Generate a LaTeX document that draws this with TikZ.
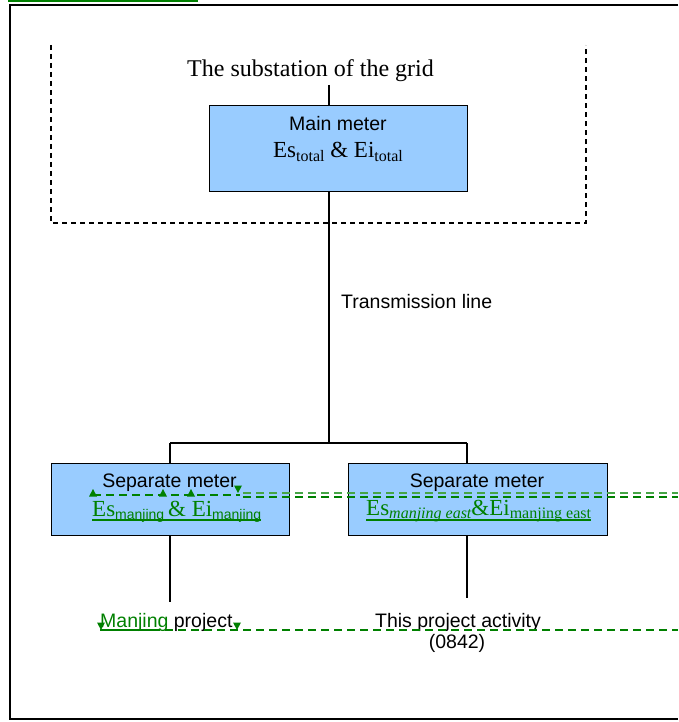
\documentclass[tikz,border=0pt]{standalone}
\usepackage{fontspec}
\setmainfont{Liberation Serif}
\setsansfont{Liberation Sans}
\definecolor{meterblue}{RGB}{153,204,255}
\definecolor{revgreen}{RGB}{0,128,0}
\definecolor{revlight}{RGB}{70,165,70}
\newcommand\bigser{\fontsize{23}{26}\selectfont\rmfamily}
\newcommand\lowsub[1]{\raisebox{-3pt}{#1}}
\newcommand\upmark[1]{\fill[revgreen] (#1) ++(0,-4) -- ++(4,7.5) -- ++(-8,0) -- cycle;}
\newcommand\downmark[1]{\fill[revgreen] (#1) ++(0,4) -- ++(4,-7.5) -- ++(-8,0) -- cycle;}
\begin{document}
\begin{tikzpicture}[x=1pt,y=-1pt,
  meter/.style={draw=black,line width=1.4pt,fill=meterblue,inner sep=0pt,anchor=north west},
  wire/.style={line width=1.2pt,black},
  sanslbl/.style={font=\fontsize{19.5}{22}\sffamily,inner sep=0pt,anchor=base},
  serlbl/.style={font=\bigser,inner sep=0pt,anchor=base},
  revline/.style={revgreen,line width=1.3pt,dash pattern=on 8pt off 5pt},
  revlineb/.style={revlight,line width=1.3pt,dash pattern=on 8pt off 5pt},
  uline/.style={revgreen,line width=1.2pt}]
\useasboundingbox (0,0) rectangle (678,722);
% outer frame and top revision bar
\draw[line width=2pt,black] (678,5.5) -- (9.5,5.5) -- (9.5,718.5) -- (678,718.5);
\draw[revgreen,line width=2pt] (8,1) -- (198,1);
% substation area
\draw[line width=1.3pt,dash pattern=on 5pt off 4pt] (51,45) -- (51,223) -- (586,223) -- (586,45);
\node[serlbl,font=\fontsize{24}{27}\selectfont\rmfamily] (title) at (310.5,77) {The substation of the grid};
% boxes
\node[meter,minimum width=258pt,minimum height=86pt] (main) at (209,105) {};
\node[meter,minimum width=238pt,minimum height=72pt] (lbox) at (51,463) {};
\node[meter,minimum width=259pt,minimum height=72pt] (rbox) at (348,463) {};
% box texts
\node[sanslbl] (mainlbl) at (338,131) {Main meter};
\node[serlbl] (mainval) at (338,158) {Es\lowsub{\fontsize{16}{18}\selectfont total} \& Ei\lowsub{\fontsize{16}{18}\selectfont total}};
\node[sanslbl] (llbl) at (169.5,487) {Separate meter};
\node[serlbl,anchor=base west,text=revgreen] (lval) at (92,516) {Es\lowsub{\fontsize{14}{16}\sffamily manjing }\& Ei\lowsub{\fontsize{14}{16}\sffamily manjing}};
\node[sanslbl] (rlbl) at (477,487) {Separate meter};
\node[serlbl,anchor=base west,text=revgreen] (rval) at (366,515) {Es\lowsub{\fontsize{16}{18}\itshape manjing east}\&Ei\lowsub{\fontsize{16}{18}\selectfont manjing east}};
\draw[uline] ([yshift=-4pt]lval.base west) -- ([yshift=-4pt]lval.base east);
\draw[uline] ([yshift=-5pt]rval.base west) -- ([yshift=-5pt]rval.base east);
% connectors
\coordinate (tstart) at (329,85);
\coordinate (junc) at (329,443);
\coordinate (jl) at (170,443);
\coordinate (jr) at (467,443);
\coordinate (lend) at (170,602);
\coordinate (rend) at (467,598);
\draw[wire] (tstart) -- (tstart |- main.north);
\draw[wire] (tstart |- main.south) -- (junc);
\draw[wire] (jl) -- (jr);
\draw[wire] (jl) -- (jl |- lbox.north);
\draw[wire] (jr) -- (jr |- rbox.north);
\draw[wire] (lbox.south -| lend) -- (lend);
\draw[wire] (rbox.south -| rend) -- (rend);
\node[sanslbl,anchor=base west] (trans) at (341,308) {Transmission line};
% bottom labels
\node[sanslbl,anchor=base west] (lproj) at (100,627) {\textcolor{revgreen}{Manjing} project};
\node[sanslbl] (rproj) at (458,627) {This project activity};
\node[sanslbl] (rcode) at (457,648) {(0842)};
\draw[uline] ([yshift=-3pt]lproj.base west) -- ++(60,0);
% revision dashed lines
\draw[revline] (93,495) -- (240,495);
\draw[revlineb] (243,493) -- (678,493);
\draw[revline] (243,497) -- (678,497);
\draw[revline] (100,630) -- (678,630);
\upmark{93,493}
\upmark{163,493}
\upmark{191,493}
\downmark{238,489}
\downmark{101,626}
\downmark{237,626}
\end{tikzpicture}
\end{document}
